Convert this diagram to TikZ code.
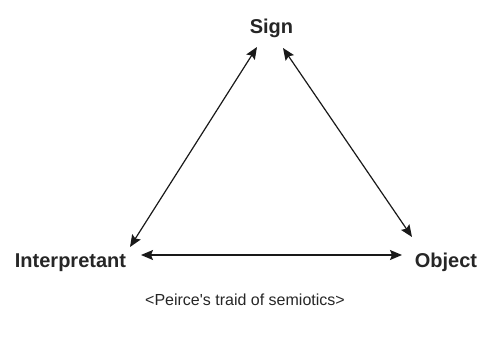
\documentclass[tikz,border=0pt]{standalone}
\usepackage{fontspec}
\setmainfont{Liberation Sans}
\usetikzlibrary{arrows.meta}
\begin{document}
\begin{tikzpicture}[x=1pt,y=-1pt,
  lbl/.style={font=\bfseries\fontsize{20}{22}\selectfont, text=black!85, inner sep=0pt, anchor=base},
  conn/.style={{Stealth[length=12pt,width=10pt,inset=2pt]}-{Stealth[length=12pt,width=10pt,inset=2pt]}, line width=1.2pt, black!90}]
\useasboundingbox (0,0) rectangle (483,338);
\node[lbl] (sign) at (271.5,33) {Sign};
\node[lbl] (interp) at (70.5,267) {Interpretant};
\node[lbl] (obj) at (446,267) {Object};
\node[font=\fontsize{16}{19}\selectfont, text=black!85, inner sep=0pt, anchor=base west] (cap) at (145,305) {<Peirce\textquotesingle s traid of semiotics>};
\coordinate (sl) at (257,47);
\coordinate (sr) at (283,48);
\coordinate (il) at (130,247);
\coordinate (or) at (412,237);
\coordinate (ih) at (141,255);
\coordinate (oh) at (402,255);
\draw[conn] (il) -- (sl);
\draw[conn] (sr) -- (or);
\draw[conn] (ih) -- (oh);
\end{tikzpicture}
\end{document}
